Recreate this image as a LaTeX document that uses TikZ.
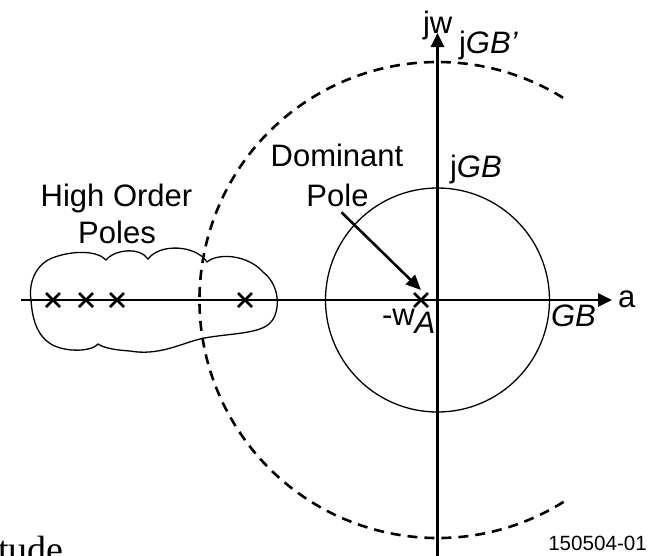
\documentclass[tikz,border=0pt]{standalone}
\usepackage{fontspec}
\setmainfont{Liberation Sans}
\newfontfamily\serifface{Liberation Serif}
\usetikzlibrary{arrows.meta,shapes.misc}

\begin{document}
\begin{tikzpicture}[x=1pt,y=-1pt,
  lbl/.style={inner sep=0pt, outer sep=0pt, anchor=base west,
              font=\fontsize{31}{37}\selectfont},
  clbl/.style={lbl, anchor=base},
  axisline/.style={line width=2.8pt, -{Triangle[length=14pt,width=13pt]}},
  polemark/.style={cross out, draw, line width=2.6pt, minimum size=14pt,
                   inner sep=0pt, outer sep=0pt},
  gbcircle/.style={line width=1.3pt},
  gbpcircle/.style={line width=2.6pt, dash pattern=on 10pt off 7pt},
  cloudline/.style={line width=1.3pt},
  pointer/.style={line width=2.6pt, -{Triangle[length=15pt,width=13pt]}}]

\useasboundingbox (0,0) rectangle (648,555);

% origin of the s-plane
\coordinate (o) at (437.5,300);

% unity-gain circle and the larger dashed circle (left part only)
\draw[gbcircle] (o) circle[radius=112];
\draw[gbpcircle] ([shift={(58:238)}]o) arc[start angle=58, end angle=302, radius=238];

% cloud around the high order poles
\draw[cloudline] (31,300)
  .. controls (28,280) and (38,262) .. (55,257)
  .. controls (75,250) and (98,251) .. (106,260)
  .. controls (115,249) and (140,247) .. (148,259)
  .. controls (160,243) and (196,245) .. (207,262)
  .. controls (217,253) and (247,254) .. (263,272)
  .. controls (281,286) and (280,312) .. (271,322)
  .. controls (260,335) and (226,333) .. (200,339)
  .. controls (180,344) and (158,356) .. (130,351)
  .. controls (115,350) and (104,348) .. (98,344)
  .. controls (90,353) and (60,352) .. (48,342)
  .. controls (35,332) and (32,315) .. cycle;

% axes
\coordinate (xl) at (21,300);
\coordinate (xr) at (612,300);
\coordinate (yb) at (437.5,560);
\coordinate (yt) at (437.5,33);
\draw[axisline] (xl) -- (xr);
\draw[axisline] (yb) -- (yt);

% poles
\node[polemark] (p1) at (53,300) {};
\node[polemark] (p2) at (86,300) {};
\node[polemark] (p3) at (117,300) {};
\node[polemark] (p4) at (245,300) {};
\node[polemark] (pdom) at (421,300) {};

% labels
\node[lbl] (ljw) at (423,33) {jw};
\node[lbl] (lgbp) at (459,53) {j{\itshape GB’}};
\node[lbl] (lgb) at (450,177) {j{\itshape GB}};
\node[lbl] (lgbr) at (551,326) {\itshape GB};
\node[lbl] (la) at (618,307) {a};
\node[lbl] (lwa) at (382,325) {-w\raisebox{-8pt}{\itshape A}};
\node[clbl] (dp1) at (337,166) {Dominant};
\node[clbl] (dp2) at (337.5,206) {Pole};
\node[clbl] (hp1) at (116.5,206) {High Order};
\node[clbl] (hp2) at (117,243) {Poles};
\node[inner sep=0pt, anchor=base east, font=\fontsize{20.6}{24}\selectfont]
  (fig) at (647,550) {150504-01};

% caption text running off the lower left corner
\begin{scope}
  \clip (0,0) rectangle (648,555);
  \node[inner sep=0pt, anchor=base east, font=\serifface\fontsize{38}{44}\selectfont]
    (cut) at (64,562) {tude};
\end{scope}

% arrow to the dominant pole
\draw[pointer] ([shift={(4,6)}]dp2.south) -- ([shift={(0,-3)}]pdom.north);

\end{tikzpicture}
\end{document}
